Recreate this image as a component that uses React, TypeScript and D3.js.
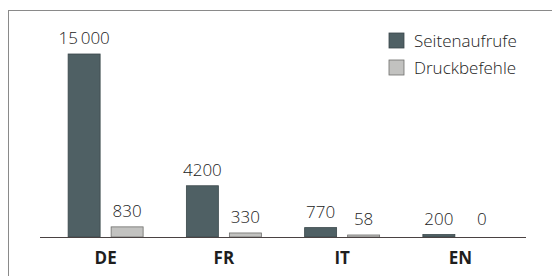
import { useEffect, useRef } from "react";
import * as d3 from "d3";

// Seitenaufrufe vs. Druckbefehle per language version
const LANGS = ["DE", "FR", "IT", "EN"];
const SERIES = ["Seitenaufrufe", "Druckbefehle"];
const PAGE_VIEWS = [15000, 4200, 770, 200];
const PRINTS = [830, 330, 58, 0];

const COLORS: Record<string, string> = {
  Seitenaufrufe: "#4f6064",
  Druckbefehle: "#c2c2c0",
};
const STROKES: Record<string, string> = {
  Seitenaufrufe: "#3a474a",
  Druckbefehle: "#6e6e6c",
};

const W = 552;
const H = 276;
const FONT = "'Open Sans', 'Noto Sans', sans-serif";

const fmt = (v: number) => (v >= 10000 ? d3.format(",")(v).replace(",", "\u2009") : String(v));

export default function App() {
  const ref = useRef<SVGSVGElement>(null);

  useEffect(() => {
    const svg = d3.select(ref.current);
    svg.selectAll("*").remove();

    const baseY = 237;
    const y = d3.scaleLinear().domain([0, 15000]).range([baseY, 54]);
    const x0 = d3.scaleBand().domain(LANGS).range([46.5, 519.5]).padding(0);
    const groupW = 75;
    const x1 = d3.scaleBand().domain(SERIES).range([0, groupW]).paddingInner(0.256);
    const gx = (c: string) => (x0(c) ?? 0) + (x0.bandwidth() - groupW) / 2;

    const rows = LANGS.map((c, i) => ({ c, vals: [PAGE_VIEWS[i], PRINTS[i]] }));

    // frame (top + left edges visible in crop)
    svg
      .append("rect")
      .attr("x", 8.5)
      .attr("y", 10.5)
      .attr("width", 600)
      .attr("height", 400)
      .attr("fill", "none")
      .attr("stroke", "#8a8a8a")
      .attr("stroke-width", 1);

    const groups = svg
      .append("g")
      .selectAll("g")
      .data(rows)
      .join("g")
      .attr("transform", (d) => `translate(${gx(d.c)},0)`);

    groups
      .selectAll("rect")
      .data((d) => SERIES.map((s, i) => ({ s, v: d.vals[i] })))
      .join("rect")
      .attr("x", (d) => x1(d.s) ?? 0)
      .attr("width", x1.bandwidth())
      .attr("y", (d) => Math.min(y(d.v), baseY - 2))
      .attr("height", (d) => Math.max(baseY - y(d.v), 2))
      .attr("fill", (d) => COLORS[d.s])
      .attr("stroke", (d) => STROKES[d.s])
      .attr("stroke-width", 0.8)
      .style("display", (d) => (d.v === 0 ? "none" : null));

    groups
      .selectAll("text.val")
      .data((d) => SERIES.map((s, i) => ({ s, v: d.vals[i] })))
      .join("text")
      .attr("class", "val")
      .attr("x", (d) => (x1(d.s) ?? 0) + x1.bandwidth() / 2)
      .attr("y", (d) => Math.min(y(d.v), baseY - 2) - 10)
      .attr("text-anchor", "middle")
      .attr("font-family", FONT)
      .attr("font-size", 17)
      .attr("font-weight", 300)
      .attr("fill", "#222")
      .text((d) => fmt(d.v));

    // baseline
    svg
      .append("line")
      .attr("x1", 40)
      .attr("x2", 526)
      .attr("y1", baseY + 0.5)
      .attr("y2", baseY + 0.5)
      .attr("stroke", "#4a4242")
      .attr("stroke-width", 1.2);

    // category labels
    svg
      .append("g")
      .selectAll("text")
      .data(LANGS)
      .join("text")
      .attr("x", (c) => gx(c) + groupW / 2)
      .attr("y", 264)
      .attr("text-anchor", "middle")
      .attr("font-family", FONT)
      .attr("font-size", 17)
      .attr("font-weight", 700)
      .attr("fill", "#1e1e1e")
      .text((c) => c);

    // legend
    const leg = svg
      .append("g")
      .selectAll("g")
      .data(SERIES)
      .join("g")
      .attr("transform", (_, i) => `translate(389,${33 + i * 27})`);
    leg
      .append("rect")
      .attr("width", 15)
      .attr("height", 15)
      .attr("fill", (s) => COLORS[s])
      .attr("stroke", (s) => STROKES[s])
      .attr("stroke-width", 0.8);
    leg
      .append("text")
      .attr("x", 25)
      .attr("y", 14)
      .attr("font-family", FONT)
      .attr("font-size", 17)
      .attr("font-weight", 300)
      .attr("fill", "#222")
      .text((s) => s);
  }, []);

  return (
    <svg
      ref={ref}
      width={W}
      height={H}
      style={{ position: "fixed", left: 0, top: 0, background: "#fff", display: "block" }}
    />
  );
}
